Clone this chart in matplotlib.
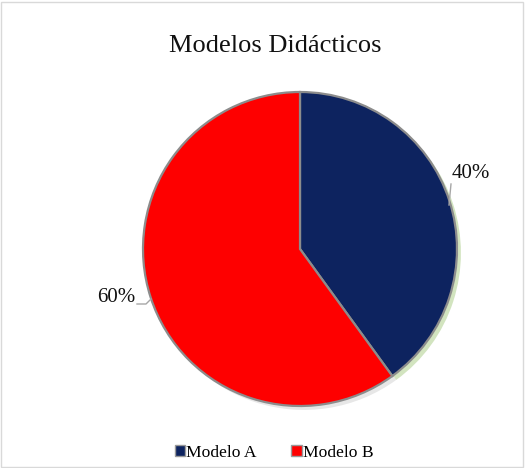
import matplotlib.pyplot as plt
from matplotlib.patches import Rectangle
import numpy as np

categories = ["Modelo A", "Modelo B"]
values = [40, 60]
labels_pct = ["40%", "60%"]
colors = ["#0d235f", "#fe0000"]
title = "Modelos Didácticos"

plt.rcParams['font.family'] = ['Liberation Serif', 'DejaVu Serif']

W, H = 525, 468
fig = plt.figure(figsize=(W/100, H/100), dpi=100)
fig.patches.append(Rectangle((1/W, 1/H), 1-3/W, 1-3/H, transform=fig.transFigure,
                             fill=False, edgecolor="#d9d9d9", linewidth=1))

cx, cy, R = 300, 249, 157
ax = fig.add_axes([(cx-R)/W, (H-cy-R)/H, 2*R/W, 2*R/H])

# soft shadow
shadow = ax.pie(values, radius=1.0, startangle=90, counterclock=False,
                colors=["#7fb24a", "#bbbbbb"], center=(0.025, -0.025),
                wedgeprops=dict(linewidth=0, alpha=0.35))
for w in shadow[0]:
    w.set_zorder(0)

wedges, _ = ax.pie(values, radius=1.0, startangle=90, counterclock=False,
                   colors=colors,
                   wedgeprops=dict(edgecolor="#8c8c8c", linewidth=1.6))
ax.set_xlim(-1, 1); ax.set_ylim(-1, 1)
ax.set_aspect('equal'); ax.axis('off')

def px(x, y):
    return ((x - cx) / R, (cy - y) / R)

# percentage labels
ax.text(*px(471, 173), labels_pct[0], ha='center', va='center', fontsize=15, color="#111111", clip_on=False)
ax.text(*px(116, 298), labels_pct[1], ha='center', va='center', fontsize=15, color="#111111", clip_on=False)
ax.plot(*zip(px(451, 184), px(449, 205)), color="#a6a6a6", lw=1, clip_on=False)
ax.plot(*zip(px(137, 304), px(146, 304), px(151, 299)), color="#a6a6a6", lw=1, clip_on=False)

fig.text(275/W, 1-46/H, title, ha='center', va='center', fontsize=19, color="#111111")

handles = [Rectangle((0, 0), 1, 1, facecolor=c, edgecolor="#999999") for c in colors]
fig.legend(handles, categories, loc='center', bbox_to_anchor=(274/W, 1-453/H),
           ncol=2, frameon=False, fontsize=12.6, handlelength=0.6, handleheight=0.6,
           handletextpad=0.05, columnspacing=2.0)

fig.savefig("out.png", dpi=100)
